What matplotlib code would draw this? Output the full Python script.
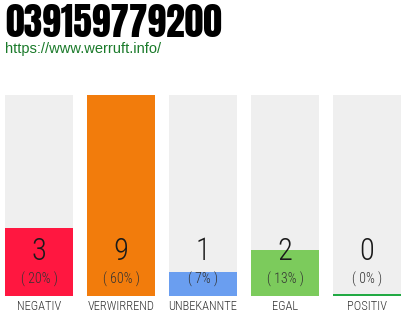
import matplotlib
matplotlib.use("Agg")
import matplotlib.pyplot as plt
import matplotlib.transforms as mtransforms
from matplotlib import font_manager

title = "039159779200"
url = "https://www.werruft.info/"
categories = ["NEGATIV", "VERWIRREND", "UNBEKANNTE", "EGAL", "POSITIV"]
counts = [3, 9, 1, 2, 0]
percents = ["( 20% )", "( 60% )", "( 7% )", "( 13% )", "( 0% )"]
colors = ["#ff1740", "#f27c0c", "#6a9ef0", "#7ccb5c", "#22aa44"]

names = {f.name for f in font_manager.fontManager.ttflist}
def pick(cands):
    for c in cands:
        if c in names:
            return c
    return "DejaVu Sans"

title_font = pick(["Anton", "Oswald", "Bebas Neue", "Archivo Black"])
thin_font = pick(["Roboto Condensed", "Barlow Condensed", "Encode Sans Condensed", "Asap Condensed", "Oswald"])
url_font = pick(["Liberation Sans", "Arial", "DejaVu Sans"])

W, H = 410, 320
fig = plt.figure(figsize=(W / 100, H / 100), dpi=100)
fig.patch.set_facecolor("white")

left_px, right_px, top_px, bot_px = 5, 401, 95, 296
ax = fig.add_axes([left_px / W, (H - bot_px) / H, (right_px - left_px) / W, (bot_px - top_px) / H])
bw = 68 / 82
ax.set_xlim(-bw / 2, len(categories) - 1 + bw / 2)
vmax = max(counts)
base = vmax * 2 / 199  # minimum visible height (~2px)
ymax = vmax + base
ax.set_ylim(0, ymax)
ax.axis("off")

x = list(range(len(categories)))
ax.bar(x, [ymax] * len(x), width=bw, color="#efefef", linewidth=0)
ax.bar(x, [c + base for c in counts], width=bw, color=colors, linewidth=0)

trans = mtransforms.blended_transform_factory(ax.transData, ax.transAxes)
for i, (c, p, lab) in enumerate(zip(counts, percents, categories)):
    ax.text(i, (bot_px - 251) / (bot_px - top_px), str(c), transform=trans, ha="center", va="center",
            fontsize=22, family=thin_font, fontweight=300, color="#1a1a1a")
    ax.text(i, (bot_px - 279) / (bot_px - top_px), p, transform=trans, ha="center", va="center",
            fontsize=10, family=thin_font, fontweight=300, color="#333333")
    ax.text(i, (bot_px - 307) / (bot_px - top_px), lab, transform=trans, ha="center", va="center",
            fontsize=9, family=thin_font, fontweight=300, color="#333333", clip_on=False)

fig.text(5 / W, (H - 37) / H, title, ha="left", va="baseline", fontsize=27,
         family=title_font, color="#000000")
fig.text(5 / W, (H - 53) / H, url, ha="left", va="baseline", fontsize=10.5, family=url_font,
         color="#1a7a2a")

fig.savefig("out.png", dpi=100, facecolor="white")
